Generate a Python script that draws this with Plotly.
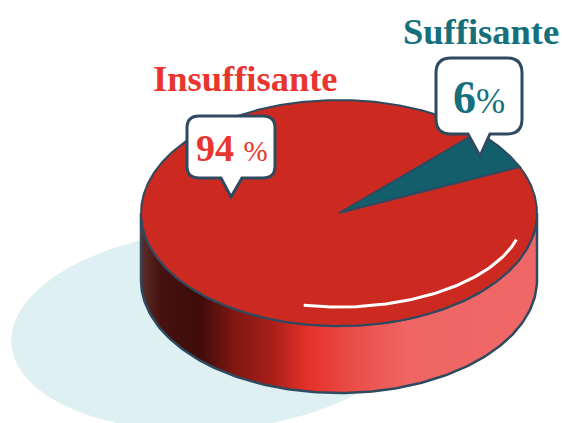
import numpy as np
import plotly.graph_objects as go

categories = ["Suffisante", "Insuffisante"]
shares = [6, 94]
value_numbers = ["6", "94 "]
value_unit = "%"

RED_TOP, TEAL_TOP, OUTLINE = "#cc2a20", "#125f6b", "#2f4a60"
RED_TEXT, TEAL_TEXT = "#e8362e", "#16707c"
SHADOW = "#dff0f3"
FONT = "Liberation Serif"
CX, CY, RX, RY, DEPTH = 339, 213, 198, 113, 67
START = 24.0


def ell(t, dy=0, rx=RX, ry=RY):
    r = np.radians(t)
    return CX + rx * np.cos(r), CY + dy - ry * np.sin(r)


def callout(x0, x1, y0, y1, r, b0, b1, tip):
    return (f"M{x0+r},{y0} L{x1-r},{y0} Q{x1},{y0} {x1},{y0+r} L{x1},{y1-r} Q{x1},{y1} {x1-r},{y1} "
            f"L{b1},{y1} L{tip[0]},{tip[1]} L{b0},{y1} L{x0+r},{y1} Q{x0},{y1} {x0},{y1-r} "
            f"L{x0},{y0+r} Q{x0},{y0} {x0+r},{y0} Z")


fig = go.Figure()

# soft shadow
a = np.radians(np.linspace(0, 360, 240))
rot = np.radians(-4)
ex, ey = 203 * np.cos(a), 100 * np.sin(a)
fig.add_trace(go.Scatter(x=214 + ex * np.cos(rot) - ey * np.sin(rot),
                         y=330 + ex * np.sin(rot) + ey * np.cos(rot),
                         fill="toself", fillcolor=SHADOW, mode="none", hoverinfo="skip"))

# side wall
t = np.linspace(180, 360, 160)
tx, ty = ell(t)
bx, by = ell(t, DEPTH)
fig.add_trace(go.Scatter(
    x=np.r_[bx, tx[::-1], bx[0]], y=np.r_[by, ty[::-1], by[0]],
    mode="lines", line=dict(color=OUTLINE, width=2.5), fill="toself",
    fillgradient=dict(type="horizontal", colorscale=[
        [0.0, "#5c2e29"], [0.05, "#46110e"], [0.15, "#3f0c0a"], [0.23, "#7d1611"],
        [0.33, "#a81f19"], [0.42, "#e4302a"], [0.52, "#e94a45"], [0.67, "#ee6563"], [1.0, "#ef6868"]]),
    hoverinfo="skip"))

# top slices
fractions = np.array(shares) / sum(shares) * 360
colors = [TEAL_TOP, RED_TOP]
ang = START
for frac, col, name in zip(fractions, colors, categories):
    t = np.linspace(ang, ang + frac, max(int(frac * 2), 8))
    x, y = ell(t)
    fig.add_trace(go.Scatter(x=np.r_[CX, x, CX], y=np.r_[CY, y, CY], name=name,
                             mode="lines", line=dict(color=OUTLINE, width=2),
                             fill="toself", fillcolor=col, hoverinfo="name"))
    ang += frac

# highlight
t = np.linspace(-101, -16.5, 80)
hx, hy = ell(t, 0, 185, 94)
fig.add_trace(go.Scatter(x=hx, y=hy, mode="lines", hoverinfo="skip",
                         line=dict(color="white", width=3)))

shapes = [
    dict(type="path", xref="x", yref="y", path=callout(187, 275, 116, 178, 12, 221, 242, (231, 197)),
         fillcolor="white", line=dict(color=OUTLINE, width=3)),
    dict(type="path", xref="x", yref="y", path=callout(436, 522, 58, 134, 15, 468, 490, (480, 156)),
         fillcolor="white", line=dict(color=OUTLINE, width=3)),
]


def value_text(num, unit_px):
    return f"<b>{num}</b><span style='font-size:{unit_px}px'>{value_unit}</span>"


texts = [
    (f"<b>{categories[0]}</b>", 481, 31, 36.5, TEAL_TEXT),
    (f"<b>{categories[1]}</b>", 245, 78, 36.5, RED_TEXT),
    (value_text(value_numbers[0], 35), 479, 97, 46, TEAL_TEXT),
    (value_text(value_numbers[1], 29), 232, 148, 38, RED_TEXT),
]
annotations = [dict(text=s, x=x, y=y, xref="x", yref="y", showarrow=False,
                    font=dict(family=FONT, size=sz, color=c)) for s, x, y, sz, c in texts]

fig.update_layout(
    width=562, height=423, margin=dict(l=0, r=0, t=0, b=0), showlegend=False,
    paper_bgcolor="white", plot_bgcolor="white", shapes=shapes, annotations=annotations,
    xaxis=dict(range=[0, 562], visible=False, fixedrange=True),
    yaxis=dict(range=[423, 0], visible=False, fixedrange=True),
)
fig.write_html("out.html", config={"displayModeBar": False},
               post_script="document.body.style.margin='0';document.documentElement.style.overflow='hidden';")
